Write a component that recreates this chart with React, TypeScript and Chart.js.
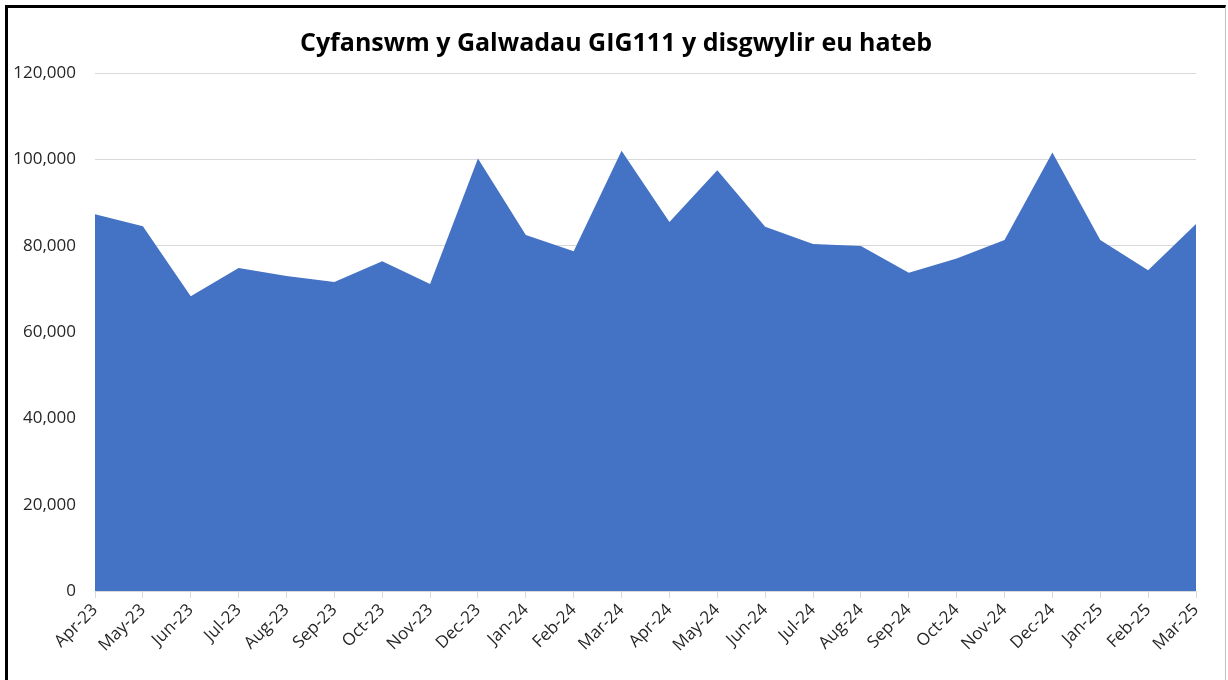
import React, { useEffect, useRef } from "react";
import { Chart, registerables } from "chart.js";

Chart.register(...registerables);

const TITLE = "Cyfanswm y Galwadau GIG111 y disgwylir eu hateb";

const months = [
  "Apr-23", "May-23", "Jun-23", "Jul-23", "Aug-23", "Sep-23", "Oct-23", "Nov-23",
  "Dec-23", "Jan-24", "Feb-24", "Mar-24", "Apr-24", "May-24", "Jun-24", "Jul-24",
  "Aug-24", "Sep-24", "Oct-24", "Nov-24", "Dec-24", "Jan-25", "Feb-25", "Mar-25",
];

const callsExpected = [
  87300, 84500, 68300, 74800, 73000, 71600, 76400, 71100,
  100200, 82500, 78700, 102000, 85500, 97500, 84400, 80400,
  79900, 73700, 77000, 81300, 101600, 81300, 74300, 85000,
];

const yTicks = [0, 20000, 40000, 60000, 80000, 100000, 120000];

const FONT = "'Open Sans', 'Noto Sans', sans-serif";

const titlePlugin = {
  id: "customTitle",
  afterDraw(chart: any) {
    const ctx = chart.ctx;
    ctx.save();
    ctx.font = `bold 25px ${FONT}`;
    ctx.fillStyle = "#000";
    ctx.textAlign = "center";
    ctx.textBaseline = "middle";
    ctx.fillText(TITLE, 616, 44);
    ctx.restore();
  },
};

export default function App() {
  const ref = useRef<HTMLCanvasElement | null>(null);

  useEffect(() => {
    if (!ref.current) return;
    const chart = new Chart(ref.current, {
      type: "line",
      data: {
        labels: months,
        datasets: [
          {
            data: callsExpected,
            fill: "origin",
            backgroundColor: "#4472C4",
            borderColor: "#4472C4",
            borderWidth: 0,
            pointRadius: 0,
            tension: 0,
          },
        ],
      },
      options: {
        animation: false,
        responsive: false,
        maintainAspectRatio: false,
        layout: { padding: { top: 73, right: 32, left: 0, bottom: 0 } },
        plugins: { legend: { display: false }, tooltip: { enabled: false }, title: { display: false } },
        scales: {
          x: {
            offset: false,
            grid: {
              drawOnChartArea: false,
              drawTicks: true,
              tickLength: 7,
              color: "#d9d9d9",
              lineWidth: 1,
            },
            border: { display: true, color: "#d9d9d9", width: 1 },
            ticks: {
              autoSkip: false,
              minRotation: 45,
              maxRotation: 45,
              padding: 2,
              color: "#262626",
              font: { family: FONT, size: 17 },
            },
            afterFit(scale: any) {
              scale.height = 89;
            },
          },
          y: {
            min: 0,
            max: 120000,
            afterBuildTicks(scale: any) {
              scale.ticks = yTicks.map((v) => ({ value: v }));
            },
            grid: { color: "#d9d9d9", lineWidth: 1, drawTicks: false },
            border: { display: false },
            ticks: {
              padding: 19,
              color: "#262626",
              font: { family: FONT, size: 17 },
              callback: (v: any) => Number(v).toLocaleString("en-US"),
            },
            afterFit(scale: any) {
              scale.width = 95;
            },
          },
        },
      },
      plugins: [titlePlugin],
    });
    return () => chart.destroy();
  }, []);

  return (
    <div style={{ position: "fixed", left: 0, top: 0, width: 1228, height: 680, background: "#fff" }}>
      <canvas ref={ref} width={1228} height={680} style={{ position: "absolute", left: 0, top: 0 }} />
      <div
        style={{
          position: "absolute",
          left: 5,
          top: 5,
          width: 1221,
          height: 680,
          borderTop: "3px solid #000",
          borderLeft: "3px solid #000",
          borderRight: "1px solid #c0c0c0",
          boxSizing: "border-box",
          pointerEvents: "none",
        }}
      />
    </div>
  );
}
